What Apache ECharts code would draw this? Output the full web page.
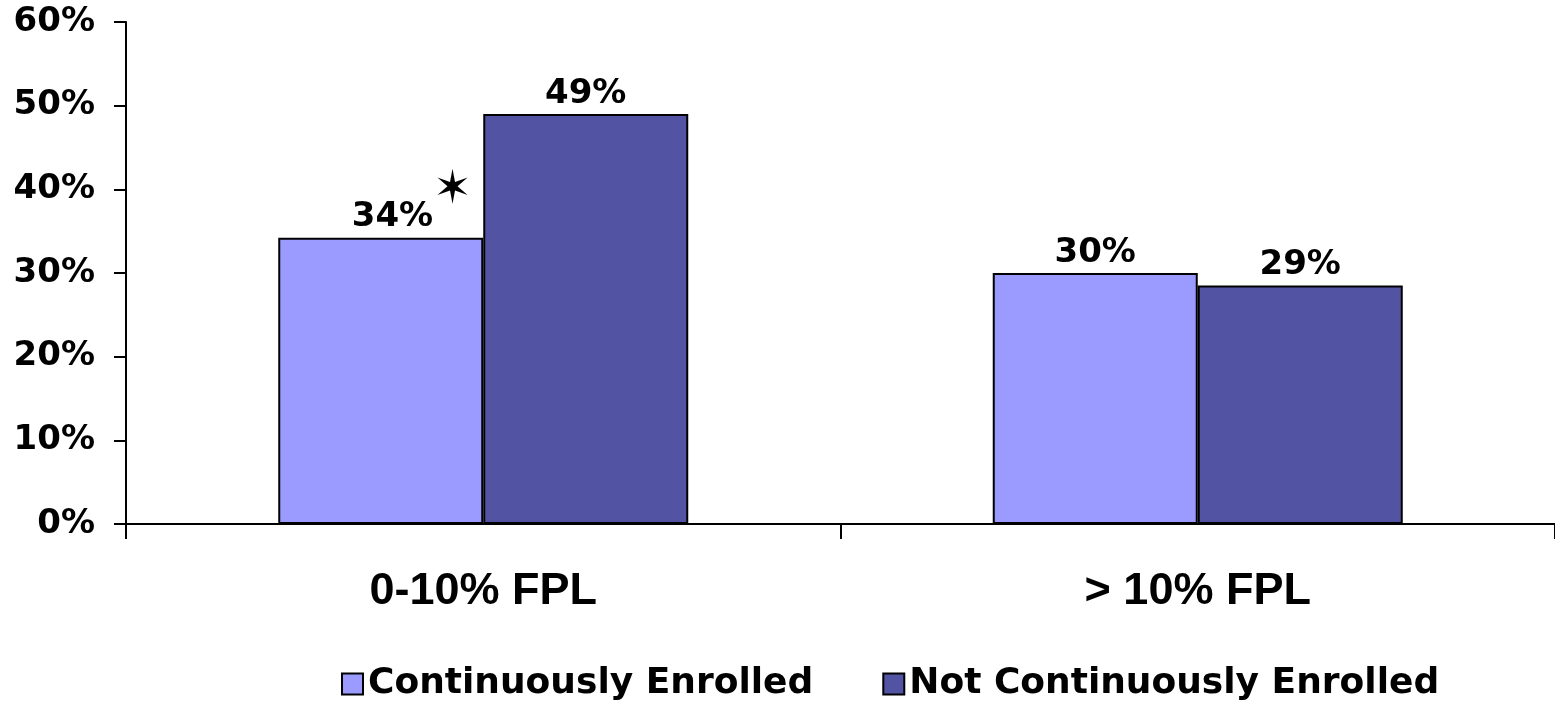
<!DOCTYPE html>
<html>
<head>
<meta charset="utf-8">
<script src="https://cdn.jsdelivr.net/npm/echarts@6/dist/echarts.min.js"></script>
<style>
  html, body { margin: 0; padding: 0; background: #ffffff; }
  #chart { width: 1555px; height: 702px; }
</style>
</head>
<body>
<div id="chart"></div>
<script>
// Share of enrollees by income group (percent)
const categories = ['0-10% FPL', '> 10% FPL'];
const seriesNames = ['Continuously Enrolled', 'Not Continuously Enrolled'];
const continuouslyEnrolled = [34.2, 30];
const notContinuouslyEnrolled = [49, 28.5];
const yTicks = [0, 10, 20, 30, 40, 50, 60];
// Bars whose difference is statistically significant get a star
const significant = [true, false];

const colors = ['#9B9BFF', '#5253A3'];
const labelFont = { fontFamily: 'DejaVu Sans', fontWeight: 'bold', fontSize: 34, color: '#000' };

function pctLabel(p) { return Math.round(p.value) + '%'; }

const chart = echarts.init(document.getElementById('chart'), null, { renderer: 'canvas' });

const firstData = continuouslyEnrolled.map((v, i) => {
  const item = { value: v };
  if (significant[i]) {
    item.label = {
      formatter: (p) => '{v|' + pctLabel(p) + '}{s|\u2736}',
      offset: [31, 31]
    };
  }
  return item;
});

chart.setOption({
  animation: false,
  backgroundColor: '#ffffff',
  grid: { left: 126, right: -5, top: 22, height: 502, containLabel: false },
  xAxis: {
    type: 'category',
    data: categories,
    axisLine: { lineStyle: { color: '#000', width: 2 } },
    axisTick: { show: true, length: 15, lineStyle: { color: '#000', width: 2 } },
    axisLabel: {
      margin: 45,
      fontFamily: 'Liberation Sans',
      fontWeight: 'bold',
      fontSize: 45,
      color: '#000'
    },
    splitLine: { show: false }
  },
  yAxis: {
    type: 'value',
    min: yTicks[0],
    max: yTicks[yTicks.length - 1],
    interval: 10,
    axisLine: { show: true, lineStyle: { color: '#000', width: 2 } },
    axisTick: { show: true, inside: false, length: 12, lineStyle: { color: '#000', width: 2 } },
    axisLabel: Object.assign({ margin: 31, formatter: (v) => v + '%' }, labelFont),
    splitLine: { show: false }
  },
  legend: {
    bottom: 0,
    left: 341,
    padding: 0,
    itemWidth: 21,
    itemHeight: 21,
    itemGap: 69,
    icon: 'rect',
    textStyle: { fontFamily: 'DejaVu Sans', fontWeight: 'bold', fontSize: 36, color: '#000', padding: [0, 0, 0, 0] },
    itemStyle: { borderColor: '#000', borderWidth: 2 },
    data: seriesNames
  },
  series: [
    {
      name: seriesNames[0],
      type: 'bar',
      data: firstData,
      barWidth: 205,
      barGap: '0%',
      itemStyle: { color: colors[0], borderColor: '#000', borderWidth: 2 },
      label: Object.assign({
        show: true,
        position: 'top',
        distance: 3,
        formatter: pctLabel,
        rich: {
          v: Object.assign({}, labelFont),
          s: { fontFamily: 'DejaVu Sans', fontSize: 46, color: '#000', padding: [0, 0, 52, 0] }
        }
      }, labelFont)
    },
    {
      name: seriesNames[1],
      type: 'bar',
      data: notContinuouslyEnrolled,
      barWidth: 205,
      barGap: '0%',
      itemStyle: { color: colors[1], borderColor: '#000', borderWidth: 2 },
      label: Object.assign({
        show: true,
        position: 'top',
        distance: 3,
        formatter: pctLabel
      }, labelFont)
    }
  ]
});
</script>
</body>
</html>
